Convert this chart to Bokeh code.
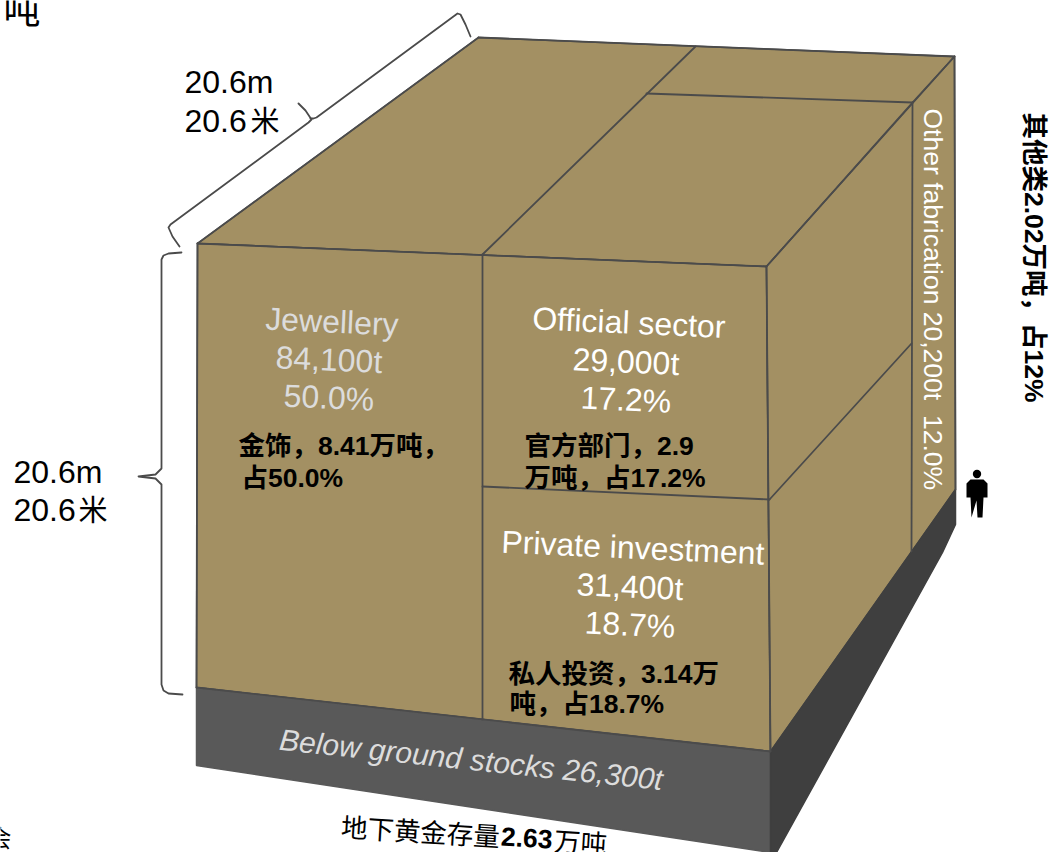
import math

from bokeh.core.properties import value
from bokeh.embed import file_html
from bokeh.models import Range1d
from bokeh.plotting import figure
from bokeh.resources import INLINE

# Above-ground gold stock, split by use (tonnes and percent of the total)
sectors = ["Jewellery", "Official sector", "Private investment"]
sector_tonnes = [84100, 29000, 31400]
sector_shares = [50.0, 17.2, 18.7]
sector_cn = [["金饰，8.41万吨，", "占50.0%"],
             ["官方部门，2.9", "万吨，占17.2%"],
             ["私人投资，3.14万", "吨，占18.7%"]]
other_name = "Other fabrication"
other_tonnes = 20200
other_share = 12.0
other_cn = "其他类2.02万吨，占12%"
ground_name = "Below ground stocks"
ground_tonnes = 26300
ground_cn = ["地下黄金存量", "2.63", "万吨"]
side_m = 20.6

W, H = 1050, 852
TAN, FRONT_DARK, SIDE_DARK, EDGE = "#a39063", "#595959", "#3f3f3f", "#4b4b4b"
SANS = "Liberation Sans"
MIXED = "Liberation Sans, Noto Sans CJK SC"
CJK = "Noto Sans CJK SC"

p = figure(width=W, height=H, x_range=Range1d(0, W), y_range=Range1d(H, 0),
           x_axis_type=None, y_axis_type=None, toolbar_location=None,
           output_backend="svg", min_border=0, outline_line_color=None,
           background_fill_color="white")


def label(x, y, s, size, color="black", font=SANS, style="normal", angle=0.0, align="left"):
    # Anchor on the baseline: the renderer sits text lower than the nominal y
    off = size * (0.34 if font == SANS else 0.42)
    a = math.radians(angle)
    p.text(x=[x - off * math.sin(a)], y=[y - off * math.cos(a)], text=[s],
           text_font=value(font), text_font_size=value(f"{size}px"),
           text_font_style=style, text_color=color, angle=[angle], angle_units="deg",
           text_align=align, text_baseline="alphabetic")


def outline(xs, ys, color=EDGE, width=2.0):
    p.line(xs, ys, line_color=color, line_width=width, line_join="round", line_cap="round")


# Cube corners on the page
front_tl, front_tr, front_br, front_bl = (197, 243), (766, 266), (770, 751), (196, 687)
back_l, back_r, right_b = (478, 37), (954, 56), (955, 489)
base_bl, base_br, base_rb = (196, 765), (770, 852), (955, 524)

faces = [
    ([front_tl, back_l, back_r, front_tr], TAN),
    ([front_tl, front_tr, front_br, front_bl], TAN),
    ([front_tr, back_r, right_b, front_br], TAN),
    ([front_bl, front_br, base_br, base_bl], FRONT_DARK),
    ([front_br, right_b, base_rb, (942, 552), (776, 852), base_br], SIDE_DARK),
]
for pts, colour in faces:
    p.patch([q[0] for q in pts], [q[1] for q in pts], fill_color=colour,
            line_color=EDGE if colour == TAN else colour, line_width=1.5)

# Dividing lines between the sectors
dividers = [
    ([front_tl[0], front_tr[0]], [front_tl[1], front_tr[1]]),
    ([front_tl[0], back_l[0]], [front_tl[1], back_l[1]]),
    ([back_l[0], back_r[0]], [back_l[1], back_r[1]]),
    ([front_tr[0], 912], [front_tr[1], 102]),
    ([front_tr[0], front_br[0]], [front_tr[1], front_br[1]]),
    ([482, 482], [254, 719]),
    ([482, 695], [254, 46]),
    ([646, 912], [93, 102]),
    ([912, 954], [102, 56]),
    ([912, 911], [102, 551]),
    ([482, 769], [486, 499]),
    ([769, 911], [499, 343]),
    ([954, 955], [56, 489]),
    ([front_tl[0], front_bl[0]], [front_tl[1], front_bl[1]]),
    ([front_bl[0], front_br[0]], [front_bl[1], front_br[1]]),
]
for xs, ys in dividers:
    outline(xs, ys, width=1.8)

# Dimension braces
outline([179, 172, 168, 170, 308, 311, 305, 298], [246, 236, 227, 224, 122, 119, 110, 103], width=1.8)
outline([310, 313, 316, 457, 460, 465, 470], [118, 118, 117, 13, 14, 24, 36], width=1.8)
outline([181, 168, 163, 161, 161, 155, 138, 155, 161, 161, 163, 168, 182],
        [252, 253, 255, 259, 468, 474, 476, 478, 484, 684, 690, 693, 694], width=1.8)

# Sector captions, English then Chinese
caption_at = [(331, 332, 370, 408, "#dcdcdc", -2.6), (628, 333, 372, 410, "white", -2.6),
              (632, 558, 597, 635, "white", -2.6)]
for name, tons, share, (cx, y1, y2, y3, col, ang) in zip(sectors, sector_tonnes, sector_shares, caption_at):
    label(cx, y1, name, 32, col, angle=ang, align="center")
    label(cx - 3, y2, f"{tons:,}t", 32, col, angle=ang, align="center")
    label(cx - 3, y3, f"{share:.1f}%", 32, col, angle=ang, align="center")

cn_at = [((238, 457), (241, 489)), ((524, 457), (524, 489)), ((508, 685), (509, 715))]
for lines, anchors in zip(sector_cn, cn_at):
    for s, (x, y) in zip(lines, anchors):
        label(x, y, s, 26.5, font=MIXED, style="bold")

label(923, 108, f"{other_name} {other_tonnes:,}t\u00a0 {other_share:.1f}%", 26.5, "white", angle=-90)
label(1022, 112, other_cn, 26.5, font=MIXED, style="bold", angle=-90)

label(278, 749, f"{ground_name} {ground_tonnes:,}t", 30, "#dcdcdc", style="italic", angle=-6)
label(340, 836, ground_cn[0], 26.5, font=CJK, angle=-3.5)
label(500, 845, ground_cn[1], 26.5, style="bold", angle=-3.5)
label(553, 850, ground_cn[2], 26.5, font=CJK, angle=-3.5)

# Height and depth annotations
label(184, 92, f"{side_m}m", 32)
label(184, 131, f"{side_m}", 32)
label(250, 131, "米", 29, font=CJK)
label(13, 482, f"{side_m}m", 32)
label(13, 520, f"{side_m}", 32)
label(78, 520, "米", 29, font=CJK)

# Ends of text running off the page
label(3, 23, "吨", 37, font=CJK)
label(-13, 846, "会", 24, font=CJK)

# Person for scale
p.circle(x=[976.5], y=[473.5], radius=4.2, fill_color="black", line_color=None)
p.patch([970, 983, 987, 987, 983, 982, 977, 976, 971, 970, 966, 966],
        [479, 479, 483, 497, 497, 517, 517, 500, 517, 497, 497, 483],
        fill_color="black", line_color=None)

open("out.html", "w").write(file_html(p, INLINE))
